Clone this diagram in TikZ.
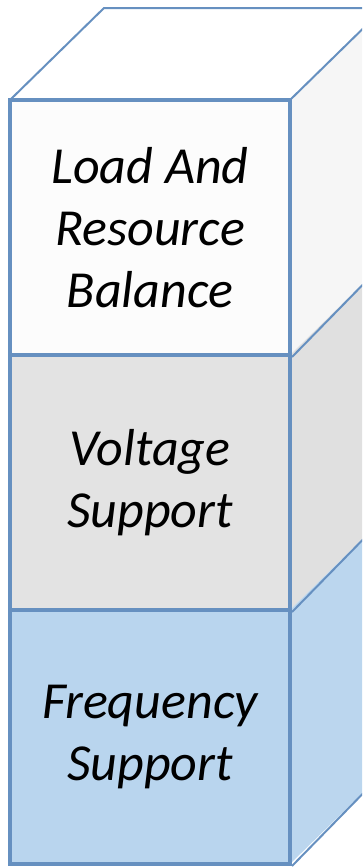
\documentclass[tikz,border=0pt]{standalone}
\usepackage{fontspec}
\setmainfont{Carlito}
\definecolor{bordc}{HTML}{6690C0}
\definecolor{fronttop}{HTML}{FCFCFC}
\definecolor{sidetop}{HTML}{F6F6F6}
\definecolor{frontmid}{HTML}{E3E3E3}
\definecolor{sidemid}{HTML}{E0E0E0}
\definecolor{frontbot}{HTML}{B9D5EE}
\definecolor{sidebot}{HTML}{BBD6EE}
\begin{document}
\begin{tikzpicture}[x=1pt,y=-1pt,
  thinedge/.style={draw=bordc, line width=2pt, line join=round},
  face/.style={draw=bordc, line width=4pt, minimum width=280pt, inner sep=0pt,
    font=\fontsize{52}{62}\selectfont\itshape, align=center, text=black}]
\useasboundingbox (0,0) rectangle (362,868);
\begin{scope}
\clip (0,0) rectangle (362,868);
% side faces
\fill[sidetop] (290,100) -- (384,8) -- (384,263) -- (290,355) -- cycle;
\fill[sidemid] (290,355) -- (384,263) -- (384,518) -- (290,610) -- cycle;
\fill[sidebot] (290,610) -- (384,518) -- (384,772) -- (290,864) -- cycle;
% top face
\draw[thinedge, fill=white] (10,100) -- (104,8) -- (384,8) -- (290,100) -- cycle;
% side edges
\coordinate (s1) at (384,263);
\coordinate (s2) at (384,518);
\coordinate (s3) at (384,772);
\end{scope}
\node[face, fill=fronttop, minimum height=255pt] (l1) at (150,227.5) {Load And\\Resource\\Balance};
\node[face, fill=frontmid, minimum height=255pt] (l2) at (150,482.5) {Voltage\\Support};
\node[face, fill=frontbot, minimum height=254pt] (l3) at (150,737) {Frequency\\Support};
\begin{scope}
\clip (0,0) rectangle (362,868);
\draw[thinedge] (l1.south east) -- (s1);
\draw[thinedge] (l2.south east) -- (s2);
\draw[thinedge] (l3.south east) -- (s3);
\end{scope}
\end{tikzpicture}
\end{document}
